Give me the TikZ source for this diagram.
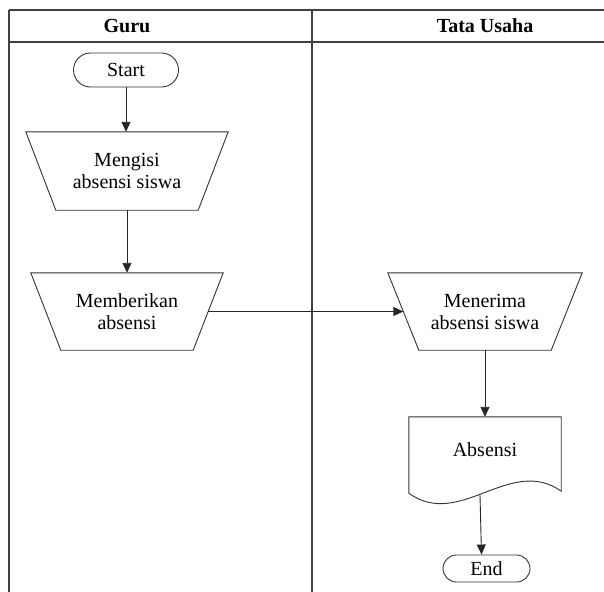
\documentclass[tikz,border=0pt]{standalone}
\usepackage{fontspec}
\setmainfont{Liberation Serif}
\usetikzlibrary{arrows.meta}
\begin{document}
\begin{tikzpicture}[x=1pt,y=-1pt,
  lane/.style={line width=1.1pt, draw=black!75},
  outline/.style={line width=0.9pt, draw=black!80},
  txt/.style={align=center, font=\fontsize{20}{22}\selectfont, inner sep=0pt},
  hdr/.style={font=\fontsize{20}{22}\selectfont\bfseries, inner sep=0pt},
  arr/.style={line width=0.9pt, draw=black!85, -{Triangle[length=10pt,width=9pt]}},
  term/.style={txt, draw=black!80, line width=0.9pt},
  box/.style={txt}]
\useasboundingbox (0,0) rectangle (604,591);
% swimlane frame
\draw[lane] (9,10) -- (606,10);
\draw[lane] (9,42) -- (606,42);
\draw[lane] (9,10) -- (9,593);
\draw[lane] (312,10) -- (312,593);
\node[hdr] (hguru) at (127,26) {Guru};
\node[hdr] (htu) at (485,26) {Tata Usaha};
% nodes
\node[term, minimum width=105pt, minimum height=34pt, rounded corners=17pt] (start) at (126,70) {Start};
\node[box, minimum width=202pt, minimum height=78pt] (t1) at (127,171) {Mengisi\\absensi siswa};
\node[box, minimum width=192pt, minimum height=77pt] (t2) at (127,311.5) {Memberikan\\absensi};
\node[box, minimum width=194pt, minimum height=77pt] (t3) at (485,311.5) {Menerima\\absensi siswa};
\node[box, minimum width=152pt, minimum height=76pt] (doc) at (485,455) {};
\node[txt] (doclbl) at (485,450) {Absensi};
\node[term, minimum width=87pt, minimum height=27pt, rounded corners=13.5pt] (stop) at (486.5,568.5) {End};
% shapes
\draw[outline] (t1.north west) -- (t1.north east) -- ([xshift=-30pt]t1.south east) -- ([xshift=30pt]t1.south west) -- cycle;
\draw[outline] (t2.north west) -- (t2.north east) -- ([xshift=-30pt]t2.south east) -- ([xshift=30pt]t2.south west) -- cycle;
\draw[outline] (t3.north west) -- (t3.north east) -- ([xshift=-31pt]t3.south east) -- ([xshift=31pt]t3.south west) -- cycle;
\draw[outline] (doc.south west) -- (doc.north west) -- (doc.north east) -- ([yshift=2pt]doc.south east) .. controls (510,455) and (460,530) .. (doc.south west) -- cycle;
% connectors
\draw[arr] (start.south) -- (start.south |- t1.north);
\draw[arr] (t1.south) -- (t2.north);
\draw[arr] ([xshift=-15pt]t2.east) -- ([xshift=15.5pt]t3.west);
\draw[arr] (t3.south) -- (doc.north);
\draw[arr] ([xshift=-5pt,yshift=-2pt]doc.south) -- ([xshift=-5pt]stop.north);
\end{tikzpicture}
\end{document}
